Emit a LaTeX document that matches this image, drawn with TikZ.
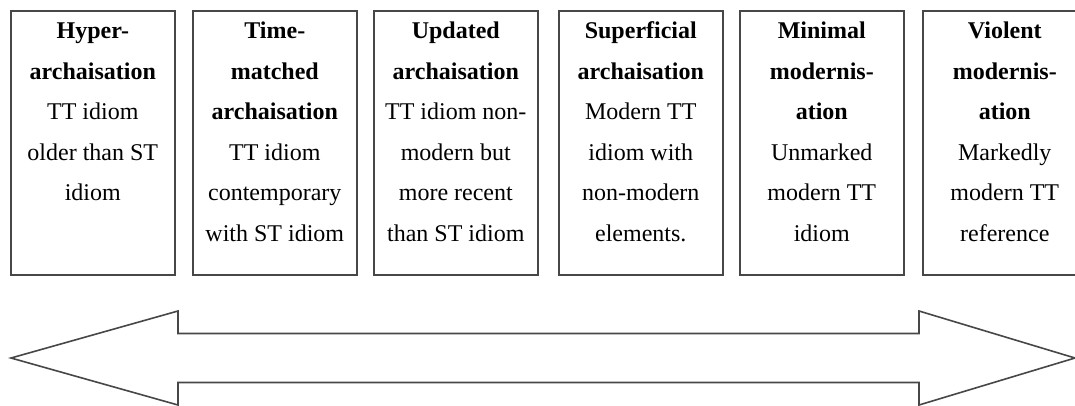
\documentclass[tikz,border=0pt]{standalone}
\usepackage{fontspec}
\setmainfont{Liberation Serif}
\begin{document}
\begin{tikzpicture}[x=1pt,y=-1pt,
  stagebox/.style={draw=black!72, line width=1.6pt, minimum width=164pt,
    minimum height=264pt, inner sep=0pt, anchor=north west},
  stagetext/.style={anchor=north, align=center, inner sep=0pt, text=black,
    font=\fontsize{24}{40.5}\selectfont},
  bigarrow/.style={draw=black!72, line width=1.6pt, line join=miter}]
\useasboundingbox (0,0) rectangle (1075,405);

% the six stages, from archaisation to modernisation
\node[stagebox] (s1) at (10,10)  {};
\node[stagebox] (s2) at (192,10) {};
\node[stagebox] (s3) at (373,10) {};
\node[stagebox] (s4) at (558,10) {};
\node[stagebox] (s5) at (739,10) {};
\node[stagebox] (s6) at (922,10) {};

\node[stagetext] (t1) at (s1.north) {\strut\textbf{Hyper-}\\\textbf{archaisation}\\TT idiom\\older than ST\\idiom};
\node[stagetext] (t2) at (s2.north) {\strut\textbf{Time-}\\\textbf{matched}\\\textbf{archaisation}\\TT idiom\\contemporary\\with ST idiom};
\node[stagetext] (t3) at (s3.north) {\strut\textbf{Updated}\\\textbf{archaisation}\\TT idiom non-\\modern but\\more recent\\than ST idiom};
\node[stagetext] (t4) at (s4.north) {\strut\textbf{Superficial}\\\textbf{archaisation}\\Modern TT\\idiom with\\non-modern\\elements.};
\node[stagetext] (t5) at (s5.north) {\strut\textbf{Minimal}\\\textbf{modernis-}\\\textbf{ation}\\Unmarked\\modern TT\\idiom};
\node[stagetext] (t6) at (s6.north) {\strut\textbf{Violent}\\\textbf{modernis-}\\\textbf{ation}\\Markedly\\modern TT\\reference};

% double-headed scale arrow
\coordinate (lt) at (11,358);
\coordinate (rt) at (1075,358);
\draw[bigarrow] (lt) -- (178,311) -- (178,333.5) -- (919,333.5) -- (919,311)
  -- (rt) -- (919,405) -- (919,382.5) -- (178,382.5) -- (178,405) -- cycle;
\end{tikzpicture}
\end{document}
